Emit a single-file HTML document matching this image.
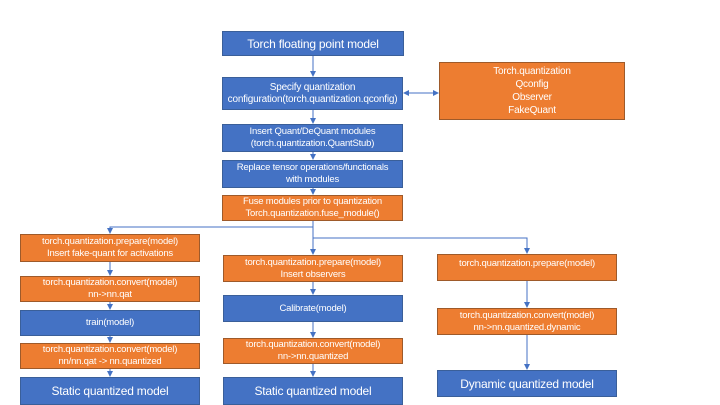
<!DOCTYPE html>
<html><head><style>
body{margin:0;width:720px;height:405px;background:#fff;position:relative;overflow:hidden;font-family:"Liberation Sans",sans-serif}
.b{position:absolute;box-sizing:border-box;color:#fff;display:flex;align-items:center;justify-content:center;text-align:center;font-size:9.5px;line-height:12px;border:1px solid #3a5f99;letter-spacing:-0.2px}
.bl{background:#4472c4}
.or{background:#ed7d31;border-color:#9e5a2a}
.big{font-size:12px}
</style></head><body>
<svg width="720" height="405" style="position:absolute;left:0;top:0">
<defs><marker id="a" markerWidth="6" markerHeight="6" refX="5" refY="3" orient="auto-start-reverse"><path d="M0,0L6,3L0,6z" fill="#4472c4"/></marker></defs>
<g stroke="#4472c4" stroke-width="1" fill="none">
<line x1="313" y1="56" x2="313" y2="76" marker-end="url(#a)"/>
<line x1="313" y1="110" x2="313" y2="123" marker-end="url(#a)"/>
<line x1="313" y1="152" x2="313" y2="159" marker-end="url(#a)"/>
<line x1="313" y1="188" x2="313" y2="194" marker-end="url(#a)"/>
<line x1="404" y1="93" x2="438" y2="93" marker-end="url(#a)" marker-start="url(#a)"/>
<polyline points="313,221 313,227 110,227 110,233" marker-end="url(#a)"/>
<line x1="313" y1="227" x2="313" y2="254" marker-end="url(#a)"/>
<polyline points="313,238 527,238 527,253" marker-end="url(#a)"/>
<line x1="110" y1="262" x2="110" y2="275" marker-end="url(#a)"/>
<line x1="110" y1="302" x2="110" y2="309" marker-end="url(#a)"/>
<line x1="110" y1="336" x2="110" y2="342" marker-end="url(#a)"/>
<line x1="110" y1="369" x2="110" y2="376" marker-end="url(#a)"/>
<line x1="313" y1="282" x2="313" y2="294" marker-end="url(#a)"/>
<line x1="313" y1="322" x2="313" y2="337" marker-end="url(#a)"/>
<line x1="313" y1="364" x2="313" y2="376" marker-end="url(#a)"/>
<line x1="527" y1="281" x2="527" y2="307" marker-end="url(#a)"/>
<line x1="527" y1="335" x2="527" y2="369" marker-end="url(#a)"/>
</g></svg>
<div class="b bl big" style="left:222px;top:31px;width:182px;height:25px">Torch floating point model</div>
<div class="b bl" style="left:222px;top:77px;width:181px;height:33px;font-size:10px">Specify quantization<br>configuration(torch.quantization.qconfig)</div>
<div class="b or" style="left:439px;top:62px;width:186px;height:58px;line-height:13px;font-size:10px">Torch.quantization<br>Qconfig<br>Observer<br>FakeQuant</div>
<div class="b bl" style="left:222px;top:124px;width:181px;height:28px">Insert Quant/DeQuant modules<br>(torch.quantization.QuantStub)</div>
<div class="b bl" style="left:222px;top:160px;width:181px;height:28px">Replace tensor operations/functionals<br>with modules</div>
<div class="b or" style="left:222px;top:195px;width:181px;height:26px">Fuse modules prior to quantization<br>Torch.quantization.fuse_module()</div>
<div class="b or" style="left:20px;top:234px;width:180px;height:28px">torch.quantization.prepare(model)<br>Insert fake-quant for activations</div>
<div class="b or" style="left:20px;top:276px;width:180px;height:26px">torch.quantization.convert(model)<br>nn-&gt;nn.qat</div>
<div class="b bl" style="left:20px;top:310px;width:180px;height:26px">train(model)</div>
<div class="b or" style="left:20px;top:343px;width:180px;height:26px">torch.quantization.convert(model)<br>nn/nn.qat -&gt; nn.quantized</div>
<div class="b bl big" style="left:20px;top:377px;width:180px;height:28px">Static quantized model</div>
<div class="b or" style="left:223px;top:255px;width:180px;height:27px">torch.quantization.prepare(model)<br>Insert observers</div>
<div class="b bl" style="left:223px;top:295px;width:180px;height:27px">Calibrate(model)</div>
<div class="b or" style="left:223px;top:338px;width:180px;height:26px">torch.quantization.convert(model)<br>nn-&gt;nn.quantized</div>
<div class="b bl big" style="left:223px;top:377px;width:180px;height:28px">Static quantized model</div>
<div class="b or" style="left:437px;top:254px;width:180px;height:27px;align-items:flex-start;padding-top:3px">torch.quantization.prepare(model)</div>
<div class="b or" style="left:437px;top:308px;width:180px;height:27px">torch.quantization.convert(model)<br>nn-&gt;nn.quantized.dynamic</div>
<div class="b bl big" style="left:437px;top:370px;width:180px;height:27px">Dynamic quantized model</div>
</body></html>
